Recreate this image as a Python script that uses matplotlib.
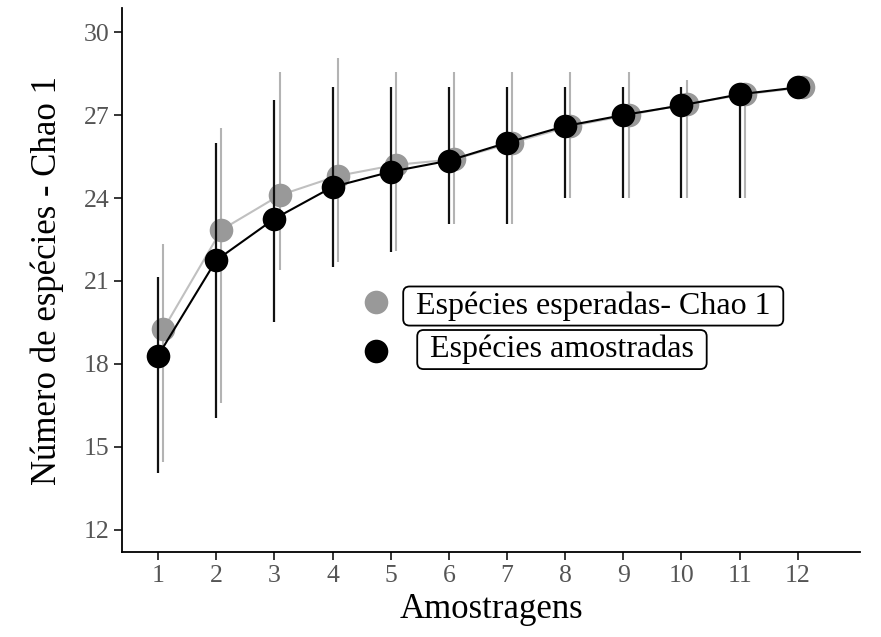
"""
Curva de acumulacao de especies: observadas vs Chao 1
"""
from matplotlib import pyplot as plt
import numpy as np

plt.rcParams['font.family'] = ['Liberation Serif', 'DejaVu Serif']

# Dados
amostras = np.arange(1, 13)
amostradas = [18.3, 21.75, 23.25, 24.4, 24.95, 25.35, 26.0, 26.6, 27.0, 27.35, 27.75, 28.0]
amostradas_min = [14.05, 16.05, 19.5, 21.5, 22.05, 23.05, 23.05, 24.0, 24.0, 24.0, 24.0, 28.0]
amostradas_max = [21.15, 26.0, 27.55, 28.0, 28.0, 28.0, 28.0, 28.0, 28.0, 28.0, 28.0, 28.0]
chao1 = [19.25, 22.85, 24.1, 24.8, 25.2, 25.4, 26.0, 26.6, 27.0, 27.4, 27.75, 28.0]
chao1_min = [14.45, 16.6, 21.4, 21.7, 22.1, 23.05, 23.05, 24.0, 24.0, 24.0, 24.0, 28.0]
chao1_max = [22.35, 26.55, 28.55, 29.05, 28.55, 28.55, 28.55, 28.55, 28.55, 28.25, 27.9, 28.0]
yticks = [12, 15, 18, 21, 24, 27, 30]

fig = plt.figure(figsize=(8.81, 6.37), dpi=100)
ax = fig.add_axes([0.1385, 0.1334, 0.8377, 0.854])

dx = 0.09
xc = amostras + dx

# Chao 1 (cinza)
ax.vlines(xc, chao1_min, chao1_max, color='#b3b3b3', lw=1.5, zorder=1)
ax.plot(xc, chao1, color='#c0c0c0', lw=1.5, zorder=2)
ax.plot(xc, chao1, 'o', color='#999999', ms=17, mec='none', zorder=3)

# Especies amostradas (preto)
ax.vlines(amostras, amostradas_min, amostradas_max, color='#111111', lw=1.6, zorder=4)
ax.plot(amostras, amostradas, color='black', lw=1.5, zorder=5)
ax.plot(amostras, amostradas, 'o', color='black', ms=17, mec='none', zorder=6)

ax.set_xlim(0.38, 13.07)
ax.set_ylim(11.2, 30.87)
ax.set_xticks(amostras)
ax.set_yticks(yticks)
ax.spines['top'].set_visible(False)
ax.spines['right'].set_visible(False)
ax.spines['left'].set_linewidth(1.3)
ax.spines['bottom'].set_linewidth(1.3)
ax.tick_params(length=6, width=1.1, pad=3, labelsize=18.5, labelcolor='#555555')

ax.set_xlabel('Amostragens', fontsize=25, labelpad=5)
ax.set_ylabel('Número de espécies - Chao 1', fontsize=25, labelpad=14)

# legenda manual
ax.plot([0.3442], [0.4596], 'o', color='#999999', ms=17, mec='none',
        transform=ax.transAxes, clip_on=False)
ax.plot([0.3442], [0.3695], 'o', color='black', ms=17, mec='none',
        transform=ax.transAxes, clip_on=False)
box = dict(boxstyle='round,pad=0.15,rounding_size=0.2', fc='white', ec='black', lw=1.3)
ax.text(0.3875, 0.4522, ' Espécies esperadas- Chao 1 ', fontsize=23, ha='left',
        va='center', transform=ax.transAxes, bbox=box)
ax.text(0.4065, 0.3722, ' Espécies amostradas ', fontsize=23, ha='left',
        va='center', transform=ax.transAxes, bbox=box)

plt.savefig('out.png', dpi=100)
